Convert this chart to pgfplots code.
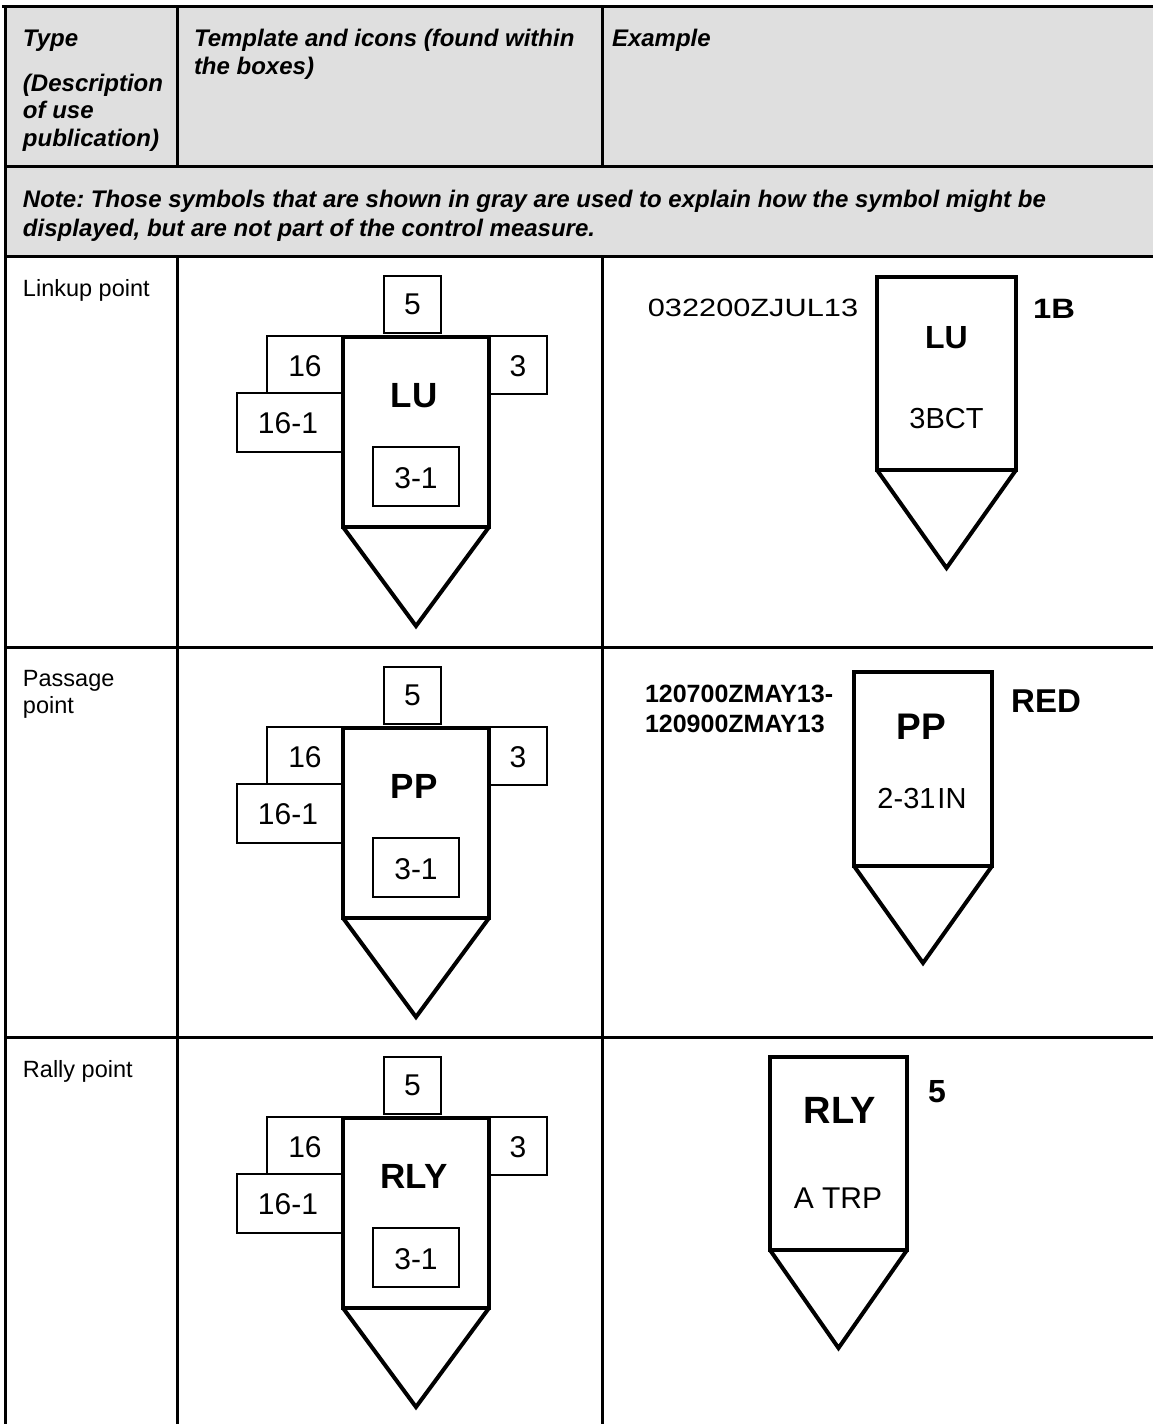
\documentclass[border=0pt]{standalone}
\usepackage{fontspec}
\setmainfont{Liberation Sans}
\usepackage{graphicx}
\usepackage{pgfplots}
\pgfplotsset{compat=1.18}
\definecolor{hdr}{HTML}{DFDFDF}
\frenchspacing

\newcommand\thinbox[4]{\addplot[black, line width=0.85pt, line join=miter] coordinates {(#1,#2) (#3,#2) (#3,#4) (#1,#4)} -- cycle;}
\newcommand\thickbox[4]{\addplot[black, line width=2pt, line join=miter] coordinates {(#1,#2) (#3,#2) (#3,#4) (#1,#4)} -- cycle;}
\newcommand\tri[5]{\addplot[black, line width=2pt, line join=miter] coordinates {(#1,#4) (#2,#5) (#3,#4)};}
\newcommand\fs[1]{\fontsize{#1}{#1}\selectfont}

\begin{document}
\begin{tikzpicture}[every node/.style={inner sep=0pt, outer sep=0pt}]
\begin{axis}[scale only axis, width=576.5pt, height=712pt,
  xmin=0, xmax=1153, ymin=0, ymax=1424, y dir=reverse, hide axis]

% header shading
\addplot[fill=hdr, draw=none] coordinates {(5,6) (1153,6) (1153,256) (5,256)} -- cycle;

% table rules
\addplot[black, line width=1.5pt] coordinates {(2,6) (1153,6)};
\addplot[black, line width=1.5pt] coordinates {(5,6) (5,1424)};
\addplot[black, line width=1.5pt] coordinates {(177,6) (177,166)};
\addplot[black, line width=1.5pt] coordinates {(602,6) (602,166)};
\addplot[black, line width=1.5pt] coordinates {(5,166) (1153,166)};
\addplot[black, line width=1.5pt] coordinates {(5,256) (1153,256)};
\addplot[black, line width=1.5pt] coordinates {(177,256) (177,1424)};
\addplot[black, line width=1.5pt] coordinates {(602,256) (602,1424)};
\addplot[black, line width=1.5pt] coordinates {(5,647) (1153,647)};
\addplot[black, line width=1.5pt] coordinates {(5,1037) (1153,1037)};

% header text
\node[anchor=base west, font=\fs{12pt}\bfseries\itshape] at (axis cs:23,47) {Type};
\node[anchor=base west, font=\fs{12pt}\bfseries\itshape] at (axis cs:23,91) {(Description};
\node[anchor=base west, font=\fs{12pt}\bfseries\itshape] at (axis cs:23,118.5) {of use};
\node[anchor=base west, font=\fs{12pt}\bfseries\itshape] at (axis cs:23,146) {publication)};
\node[anchor=base west, font=\fs{12pt}\bfseries\itshape] at (axis cs:194,47) {Template and icons (found within};
\node[anchor=base west, font=\fs{12pt}\bfseries\itshape] at (axis cs:194,74) {the boxes)};
\node[anchor=base west, font=\fs{12pt}\bfseries\itshape] at (axis cs:612,47) {Example};
\node[anchor=base west, font=\fs{12pt}\bfseries\itshape] at (axis cs:23,207) {Note: Those symbols that are shown in gray are used to explain how the symbol might be};
\node[anchor=base west, font=\fs{12pt}\bfseries\itshape] at (axis cs:23,236) {displayed, but are not part of the control measure.};

% row labels
\node[anchor=base west, font=\fs{11.75pt}] at (axis cs:23,296) {Linkup point};
\node[anchor=base west, font=\fs{11.75pt}] at (axis cs:23,686) {Passage};
\node[anchor=base west, font=\fs{11.75pt}] at (axis cs:23,713) {point};
\node[anchor=base west, font=\fs{11.75pt}] at (axis cs:23,1077) {Rally point};

% ---------- Row 1 template ----------
\thinbox{384}{276}{441}{333}
\thinbox{267}{336}{343}{393}
\thinbox{237}{393}{343}{452}
\thinbox{489}{336}{547}{394}
\thinbox{373}{447}{459}{506}
\thickbox{343}{337}{489}{527}
\tri{343}{416}{489}{527}{626}
\node[anchor=base, font=\fs{15pt}] at (axis cs:412.5,314) {5};
\node[anchor=base, font=\fs{15pt}] at (axis cs:305,376) {16};
\node[anchor=base, font=\fs{15pt}] at (axis cs:288,433) {16-1};
\node[anchor=base, font=\fs{15pt}] at (axis cs:518,376) {3};
\node[anchor=base, font=\fs{15pt}] at (axis cs:416,488) {3-1};
\node[anchor=base, font=\fs{17.5pt}\bfseries] at (axis cs:414,407.5) {LU};

% ---------- Row 2 template ----------
\thinbox{384}{667}{441}{724}
\thinbox{267}{727}{343}{784}
\thinbox{237}{784}{343}{843}
\thinbox{489}{727}{547}{785}
\thinbox{373}{838}{459}{897}
\thickbox{343}{728}{489}{918}
\tri{343}{416}{489}{918}{1017}
\node[anchor=base, font=\fs{15pt}] at (axis cs:412.5,705) {5};
\node[anchor=base, font=\fs{15pt}] at (axis cs:305,767) {16};
\node[anchor=base, font=\fs{15pt}] at (axis cs:288,824) {16-1};
\node[anchor=base, font=\fs{15pt}] at (axis cs:518,767) {3};
\node[anchor=base, font=\fs{15pt}] at (axis cs:416,879) {3-1};
\node[anchor=base, font=\fs{17.5pt}\bfseries] at (axis cs:414,798.5) {PP};

% ---------- Row 3 template ----------
\thinbox{384}{1057}{441}{1114}
\thinbox{267}{1117}{343}{1174}
\thinbox{237}{1174}{343}{1233}
\thinbox{489}{1117}{547}{1175}
\thinbox{373}{1228}{459}{1287}
\thickbox{343}{1118}{489}{1308}
\tri{343}{416}{489}{1308}{1407}
\node[anchor=base, font=\fs{15pt}] at (axis cs:412.5,1095) {5};
\node[anchor=base, font=\fs{15pt}] at (axis cs:305,1157) {16};
\node[anchor=base, font=\fs{15pt}] at (axis cs:288,1214) {16-1};
\node[anchor=base, font=\fs{15pt}] at (axis cs:518,1157) {3};
\node[anchor=base, font=\fs{15pt}] at (axis cs:416,1269) {3-1};
\node[anchor=base, font=\fs{17.5pt}\bfseries] at (axis cs:414,1188.5) {RLY};

% ---------- Row 1 example ----------
\thickbox{877}{277}{1016}{470}
\tri{877}{946.5}{1016}{470}{568}
\node[anchor=base, font=\fs{12.5pt}] at (axis cs:753,316) {\scalebox{1.23}[1]{032200ZJUL13}};
\node[anchor=base, font=\fs{14pt}\bfseries] at (axis cs:1054,318) {\scalebox{1.17}[1]{1B}};
\node[anchor=base, font=\fs{16pt}\bfseries] at (axis cs:946.5,348.5) {LU};
\node[anchor=base, font=\fs{14.5pt}] at (axis cs:946.5,428) {3BCT};

% ---------- Row 2 example ----------
\thickbox{854}{672}{992}{866}
\tri{854}{923}{992}{866}{963}
\node[anchor=base west, font=\fs{12.5pt}\bfseries] at (axis cs:645,702) {120700ZMAY13-};
\node[anchor=base west, font=\fs{12.5pt}\bfseries] at (axis cs:645,732) {120900ZMAY13};
\node[anchor=base, font=\fs{16.5pt}\bfseries] at (axis cs:1046,712) {RED};
\node[anchor=base, font=\fs{18.5pt}\bfseries] at (axis cs:921,739) {PP};
\node[anchor=base, font=\fs{14.5pt}] at (axis cs:922,808) {2-31\kern1pt IN};

% ---------- Row 3 example ----------
\thickbox{770}{1057}{907}{1250}
\tri{770}{838.5}{907}{1250}{1348}
\node[anchor=base, font=\fs{16pt}\bfseries] at (axis cs:937,1102) {5};
\node[anchor=base, font=\fs{19pt}\bfseries] at (axis cs:840,1123) {RLY};
\node[anchor=base, font=\fs{15pt}] at (axis cs:838,1208) {A TRP};

\end{axis}
\pgfresetboundingbox
\path (current axis.south west) rectangle (current axis.north east);
\end{tikzpicture}
\end{document}
